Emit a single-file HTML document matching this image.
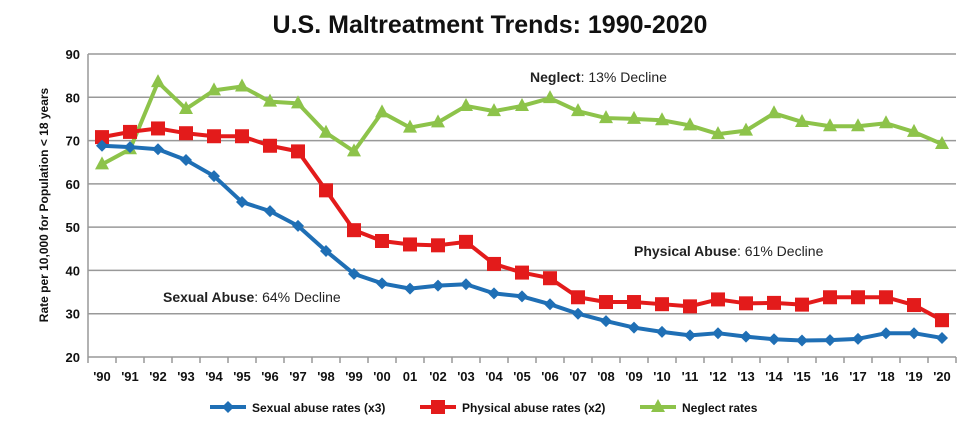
<!DOCTYPE html>
<html><head><meta charset="utf-8"><style>
body{margin:0;background:#fff;}
svg{display:block;font-family:"Liberation Sans",sans-serif;}
</style></head><body>
<svg id="c" width="980" height="423">
<text x="490" y="33" text-anchor="middle" font-size="25" font-weight="bold" fill="#111">U.S. Maltreatment Trends:  1990-2020</text>
<g id="grid"></g><g id="series"></g>
<text transform="translate(48,205) rotate(-90)" text-anchor="middle" font-size="12" font-weight="bold" fill="#111">Rate per 10,000 for Population &lt; 18 years</text>
<text x="530" y="82" font-size="14" fill="#222"><tspan font-weight="bold">Neglect</tspan>: 13% Decline</text>
<text x="634" y="256" font-size="14" fill="#222"><tspan font-weight="bold">Physical Abuse</tspan>: 61% Decline</text>
<text x="163" y="302" font-size="14" fill="#222"><tspan font-weight="bold">Sexual Abuse</tspan>:  64% Decline</text>
<g id="legend"></g>
</svg>
<script>
const categories=["'90","'91","'92","'93","'94","'95","'96","'97","'98","'99","'00","01","'02","'03","'04","'05","'06","'07","'08","'09","'10","'11","'12","'13","'14","'15","'16","'17","'18","'19","'20"];
const sexual=[68.8,68.5,68,65.5,61.8,55.8,53.7,50.3,44.5,39.2,37,35.8,36.5,36.8,34.7,34,32.2,30,28.3,26.8,25.8,25,25.5,24.7,24.1,23.8,23.9,24.2,25.5,25.5,24.4];
const physical=[70.8,72,72.8,71.7,71,71,68.8,67.5,58.5,49.3,46.8,46,45.8,46.6,41.5,39.5,38.2,33.8,32.7,32.7,32.2,31.7,33.3,32.4,32.5,32.1,33.8,33.8,33.8,32,28.5];
const neglect=[64.5,68,83.5,77.3,81.6,82.5,79,78.6,71.8,67.5,76.5,73,74.2,78,76.8,78,79.8,76.8,75.2,75,74.7,73.5,71.5,72.3,76.3,74.3,73.3,73.3,74,72,69.2];
const yTicks=[20,30,40,50,60,70,80,90];
const NS="http://www.w3.org/2000/svg";
const L=88,R=956,T=54,B=357,ymin=20,ymax=90;
const step=(R-L)/categories.length;
const xs=i=>L+step*(i+0.5);
const ys=v=>B-(v-ymin)/(ymax-ymin)*(B-T);
function mk(tag,attrs,parent){const e=document.createElementNS(NS,tag);for(const k in attrs)e.setAttribute(k,attrs[k]);parent.appendChild(e);return e;}
const grid=document.getElementById('grid');
yTicks.forEach(t=>{
 const l=mk('line',{x1:L,x2:R,y1:ys(t),y2:ys(t),stroke:'#999','stroke-width':1.5},grid);
 
 
 const tx=mk('text',{x:L-8,y:ys(t)+5,'text-anchor':'end','font-size':13,'font-weight':'bold',fill:'#111'},grid);
 tx.textContent=t;
 
 
});
const ax=mk('line',{x1:L,x2:L,y1:T,y2:B,stroke:'#999','stroke-width':1.5},grid);


for(let i=0;i<=categories.length;i++){
 const tk=mk('line',{x1:L+step*i,x2:L+step*i,y1:B,y2:B+6,stroke:'#999','stroke-width':1.5},grid);
 
 
}
categories.forEach((c,i)=>{
 const tx=mk('text',{x:xs(i),y:B+24,'text-anchor':'middle','font-size':13,'font-weight':'bold',fill:'#111'},grid);
 tx.textContent=c;
 
 
});
const S=document.getElementById('series');
function marker(type,x,y,col,g){
 let m;
 if(type==='diamond')m=mk('polygon',{points:`${x},${y-6} ${x+6},${y} ${x},${y+6} ${x-6},${y}`,fill:col},g);
 else if(type==='square')m=mk('rect',{x:x-7,y:y-7,width:14,height:14,fill:col},g);
 else m=mk('polygon',{points:`${x},${y-8} ${x+7},${y+5} ${x-7},${y+5}`,fill:col},g);
 return m;
}
function draw(vals,col,type,name){
 const g=mk('g',{},S);
 
 
 const p=mk('polyline',{points:vals.map((v,i)=>xs(i)+','+ys(v)).join(' '),fill:'none',stroke:col,'stroke-width':4,'stroke-linejoin':'round'},g);
 
 
 vals.forEach((v,i)=>{
  const m=marker(type,xs(i),ys(v),col,g);
  
  
 });
}
draw(neglect,'#8dc34a','triangle','neglect');
draw(physical,'#e31b1b','square','physical-abuse');
draw(sexual,'#1f6fb5','diamond','sexual-abuse');
const lg=document.getElementById('legend');
const items=[['Sexual abuse rates (x3)','#1f6fb5','diamond',210,'legend-sexual-abuse'],['Physical abuse rates (x2)','#e31b1b','square',420,'legend-physical-abuse'],['Neglect rates','#8dc34a','triangle',640,'legend-neglect']];
items.forEach(([t,col,type,x,nm])=>{
 const g=mk('g',{},lg);
 
 
 mk('line',{x1:x,x2:x+36,y1:407,y2:407,stroke:col,'stroke-width':4},g);
 marker(type,x+18,407,col,g);
 const tx=mk('text',{x:x+42,y:412,'font-size':12,'font-weight':'bold',fill:'#111'},g);
 tx.textContent=t;
});
</script>
</body></html>
